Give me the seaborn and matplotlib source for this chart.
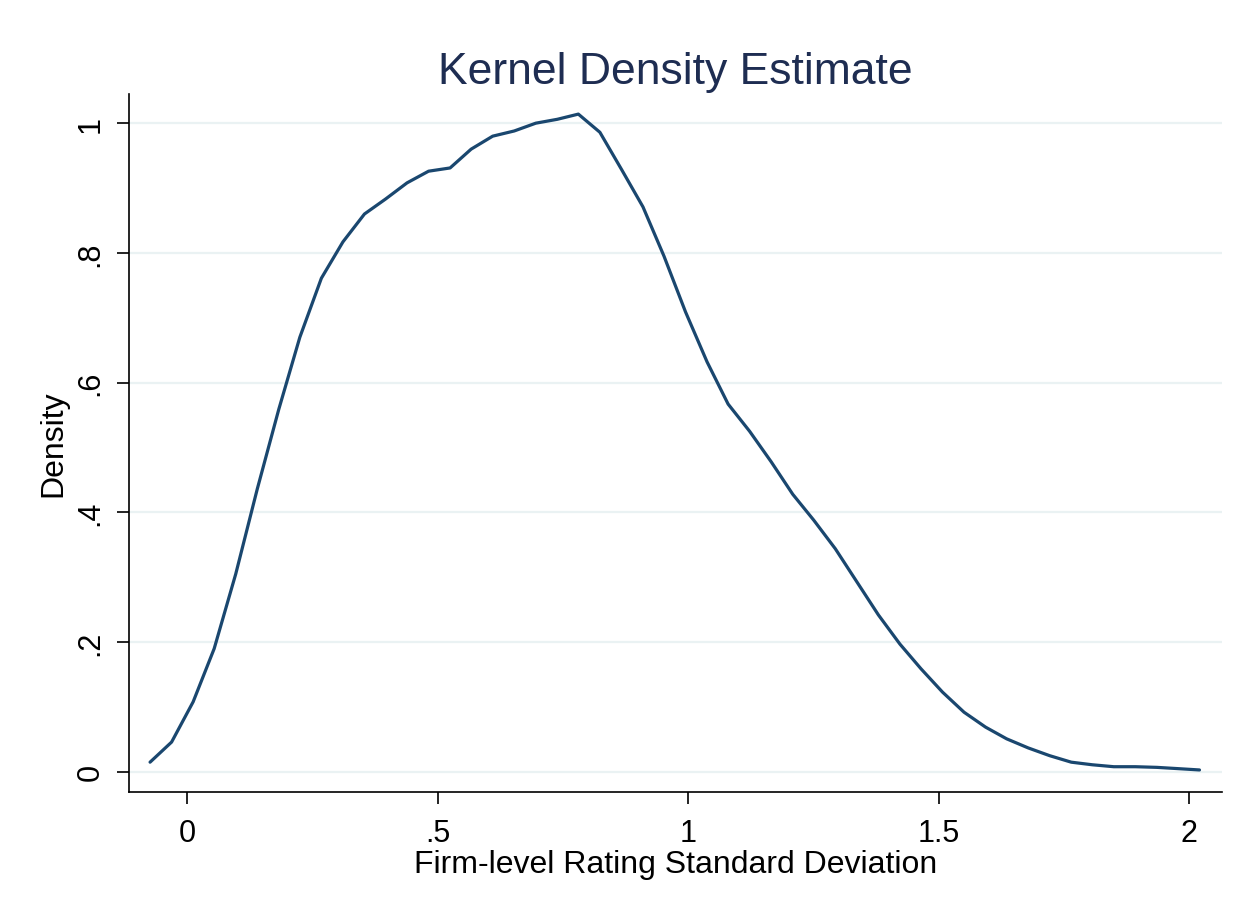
import matplotlib
matplotlib.use("Agg")
import matplotlib.pyplot as plt
import seaborn as sns
import pandas as pd

# grid points of the kernel density estimate
x_vals = [-0.074, -0.031, 0.012, 0.054, 0.097, 0.140, 0.183, 0.225, 0.268, 0.311,
          0.354, 0.396, 0.439, 0.482, 0.525, 0.567, 0.610, 0.653, 0.696, 0.739,
          0.781, 0.824, 0.867, 0.910, 0.952, 0.995, 1.038, 1.080, 1.123, 1.166,
          1.209, 1.251, 1.294, 1.337, 1.380, 1.423, 1.465, 1.508, 1.551, 1.594,
          1.636, 1.679, 1.722, 1.765, 1.807, 1.850, 1.893, 1.936, 1.979, 2.021]
density = [0.015, 0.046, 0.108, 0.190, 0.305, 0.436, 0.559, 0.670, 0.761, 0.817,
           0.860, 0.883, 0.908, 0.926, 0.931, 0.960, 0.980, 0.988, 1.000, 1.006,
           1.014, 0.986, 0.929, 0.871, 0.795, 0.709, 0.632, 0.567, 0.525, 0.478,
           0.428, 0.388, 0.344, 0.293, 0.242, 0.197, 0.159, 0.123, 0.092, 0.069,
           0.051, 0.037, 0.025, 0.015, 0.011, 0.008, 0.008, 0.007, 0.005, 0.003]

x_ticks = [0, 0.5, 1, 1.5, 2]
x_tick_labels = ["0", ".5", "1", "1.5", "2"]
y_ticks = [0, 0.2, 0.4, 0.6, 0.8, 1.0]
y_tick_labels = ["0", ".2", ".4", ".6", ".8", "1"]

df = pd.DataFrame({"x": x_vals, "density": density})

sns.set_style("white")
plt.rcParams["font.family"] = ["Liberation Sans", "DejaVu Sans"]

fig = plt.figure(figsize=(12.49, 9.03), dpi=100)
ax = fig.add_axes([0.1033, 0.1218, 0.8751, 0.7730])

# light horizontal grid like Stata's s2color scheme
for yt in y_ticks:
    ax.axhline(yt, color="#eaf2f3", lw=1.6, zorder=0)

sns.lineplot(data=df, x="x", y="density", color="#1a476f", lw=2.3, ax=ax, zorder=3)

ax.set_xlim(-0.116, 2.066)
ax.set_ylim(-0.031, 1.045)

ax.set_xticks(x_ticks)
ax.set_xticklabels(x_tick_labels)
ax.set_yticks(y_ticks)
ax.set_yticklabels(y_tick_labels, rotation=90, va="center")

ax.tick_params(axis="both", direction="out", length=8.5, width=1.2, color="black",
               labelsize=22, labelcolor="black", left=True, bottom=True)
ax.tick_params(axis="x", pad=10)
ax.tick_params(axis="y", pad=8.5)

for side in ["top", "right"]:
    ax.spines[side].set_visible(False)
for side in ["left", "bottom"]:
    ax.spines[side].set_color("black")
    ax.spines[side].set_linewidth(1.2)

ax.set_xlabel("Firm-level Rating Standard Deviation", fontsize=23, labelpad=1, color="black")
ax.set_ylabel("Density", fontsize=23, labelpad=5, color="black")
ax.set_title("Kernel Density Estimate", fontsize=32, color="#1e2d52", pad=8)

fig.savefig("out.png", dpi=100)
